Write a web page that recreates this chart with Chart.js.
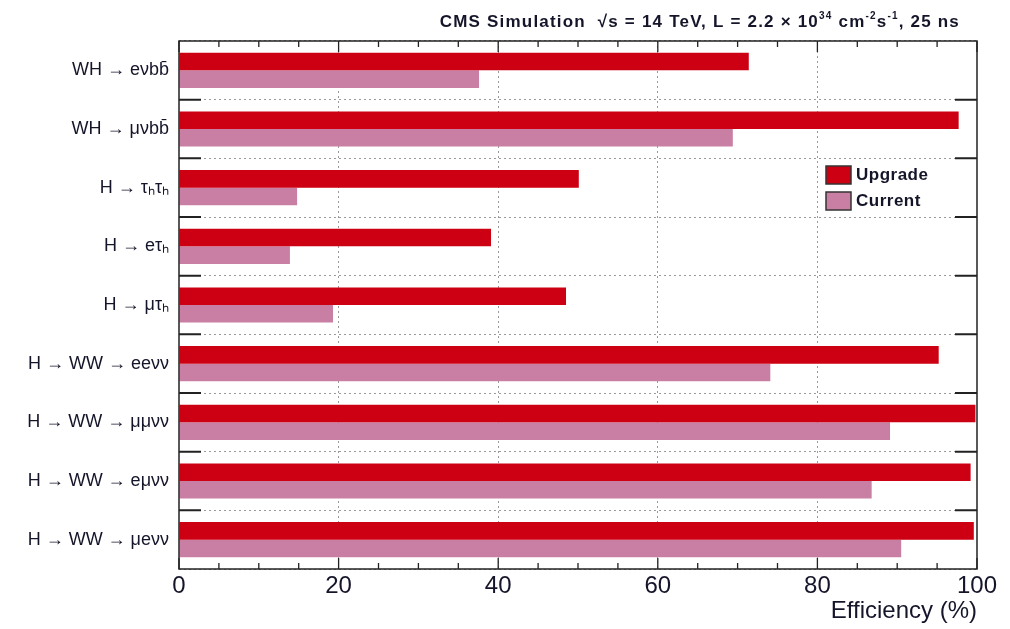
<!DOCTYPE html>
<html>
<head>
<meta charset="utf-8">
<script src="https://cdn.jsdelivr.net/npm/chart.js@4.4.1/dist/chart.umd.min.js"></script>
<style>
  html, body { margin: 0; padding: 0; background: #fff; }
</style>
</head>
<body>
<canvas id="effChart" width="1010" height="629"></canvas>
<script>
// channels, top to bottom
const channels = [
  'WH \u2192 e\u03bdbb\u0304',
  'WH \u2192 \u03bc\u03bdbb\u0304',
  'H \u2192 \u03c4\u2095\u03c4\u2095',
  'H \u2192 e\u03c4\u2095',
  'H \u2192 \u03bc\u03c4\u2095',
  'H \u2192 WW \u2192 ee\u03bd\u03bd',
  'H \u2192 WW \u2192 \u03bc\u03bc\u03bd\u03bd',
  'H \u2192 WW \u2192 e\u03bc\u03bd\u03bd',
  'H \u2192 WW \u2192 \u03bce\u03bd\u03bd'
];
const upgradeEff = [71.4, 97.7, 50.1, 39.1, 48.5, 95.2, 99.8, 99.2, 99.6];
const currentEff = [37.6, 69.4, 14.8, 13.9, 19.3, 74.1, 89.1, 86.8, 90.5];
const xLabelTicks = [0, 20, 40, 60, 80, 100];

const upgradeColor = '#cc0012';
const currentColor = '#c97fa3';
const textColor = '#15152a';

// frame, inward tick marks, legend and header text
const decorations = {
  id: 'decorations',
  afterDraw(chart) {
    const c = chart.ctx;
    const a = chart.chartArea;
    const xs = chart.scales.x;
    const ys = chart.scales.y;
    c.save();

    // frame
    c.strokeStyle = '#222';
    c.lineWidth = 1.5;
    c.strokeRect(a.left, a.top, a.right - a.left, a.bottom - a.top);

    // x tick marks (major every 20, minor every 5)
    c.lineWidth = 1.3;
    for (let v = 0; v <= 100; v += 5) {
      const px = xs.getPixelForValue(v);
      const len = xLabelTicks.includes(v) ? 11 : 6;
      c.beginPath();
      c.moveTo(px, a.bottom); c.lineTo(px, a.bottom - len);
      c.moveTo(px, a.top); c.lineTo(px, a.top + len);
      c.stroke();
    }

    // short marks at category boundaries
    c.lineWidth = 2;
    for (let i = 0; i < channels.length - 1; i++) {
      const yb = (ys.getPixelForValue(i) + ys.getPixelForValue(i + 1)) / 2;
      c.beginPath();
      c.moveTo(a.left, yb); c.lineTo(a.left + 22, yb);
      c.moveTo(a.right - 22, yb); c.lineTo(a.right, yb);
      c.stroke();
    }

    // legend
    const lx = 826, ly = 166;
    chart.data.datasets.forEach((ds, i) => {
      const by = ly + i * 26;
      c.fillStyle = ds.backgroundColor;
      c.fillRect(lx, by, 25, 18);
      c.strokeStyle = '#333';
      c.lineWidth = 1.5;
      c.strokeRect(lx, by, 25, 18);
      c.fillStyle = textColor;
      c.font = 'bold 17px "Liberation Sans", Arial, sans-serif';
      c.letterSpacing = '0.5px';
      c.textBaseline = 'middle';
      c.textAlign = 'left';
      c.fillText(ds.label, lx + 30, by + 9);
    });

    // header
    const runs = [
      ['CMS Simulation  \u221As = 14 TeV, L = 2.2 \u00d7 10', false],
      ['34', true],
      [' cm', false],
      ['-2', true],
      ['s', false],
      ['-1', true],
      [', 25 ns', false]
    ];
    const big = 'bold 17px "Liberation Sans", Arial, sans-serif';
    const small = 'bold 10px "Liberation Sans", Arial, sans-serif';
    c.letterSpacing = '1.2px';
    let total = 0;
    runs.forEach(r => { c.font = r[1] ? small : big; total += c.measureText(r[0]).width; });
    let x = a.right - 17 - total;
    const baseY = 27;
    c.fillStyle = textColor;
    c.textAlign = 'left';
    c.textBaseline = 'alphabetic';
    runs.forEach(r => {
      c.font = r[1] ? small : big;
      c.fillText(r[0], x, r[1] ? baseY - 8 : baseY);
      x += c.measureText(r[0]).width;
    });
    c.restore();
  }
};

const ctx = document.getElementById('effChart').getContext('2d');

const effChart = new Chart(ctx, {
  type: 'bar',
  data: {
    labels: channels,
    datasets: [
      { label: 'Upgrade', data: upgradeEff, backgroundColor: upgradeColor, borderWidth: 0 },
      { label: 'Current', data: currentEff, backgroundColor: currentColor, borderWidth: 0 }
    ]
  },
  options: {
    indexAxis: 'y',
    responsive: false,
    animation: false,
    layout: { padding: { top: 41, right: 33, left: 0, bottom: 0 } },
    datasets: {
      bar: { categoryPercentage: 0.6, barPercentage: 1.0 }
    },
    plugins: {
      legend: { display: false },
      title: { display: false },
      tooltip: { enabled: false }
    },
    scales: {
      x: {
        min: 0,
        max: 100,
        afterFit: s => { s.height = 60; },
        ticks: {
          stepSize: 5,
          autoSkip: false,
          maxRotation: 0,
          padding: 3,
          color: textColor,
          font: { size: 24, family: '"Liberation Sans Narrow", "Liberation Sans", Arial, sans-serif' },
          callback: v => xLabelTicks.includes(v) ? v : ''
        },
        grid: {
          drawTicks: false,
          lineWidth: 1,
          color: c => (c.tick && c.tick.value % 20 === 0 && c.tick.value > 0 && c.tick.value < 100) ? '#9a9a9a' : 'rgba(0,0,0,0)'
        },
        border: { display: false, dash: [2, 3] },
        title: {
          display: true,
          text: 'Efficiency (%)',
          align: 'end',
          color: textColor,
          padding: { top: 0, bottom: 3 },
          font: { size: 24, family: '"Liberation Sans", Arial, sans-serif' }
        }
      },
      y: {
        afterFit: s => { s.width = 179; },
        ticks: {
          padding: 10,
          color: textColor,
          font: { size: 18, family: '"Liberation Sans", Arial, sans-serif' }
        },
        grid: {
          offset: true,
          drawTicks: false,
          color: '#9a9a9a',
          lineWidth: 1
        },
        border: { display: false, dash: [2, 3] }
      }
    }
  },
  plugins: [decorations]
});
</script>
</body>
</html>
